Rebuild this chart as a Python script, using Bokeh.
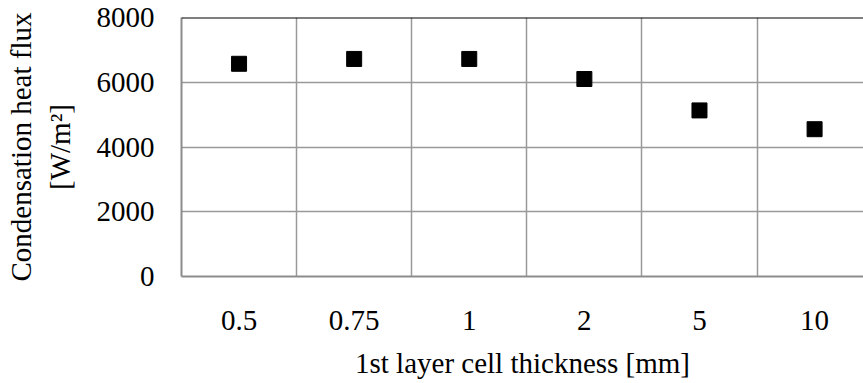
from bokeh.plotting import figure
from bokeh.models import Range1d, FixedTicker, Span, ColumnDataSource
from bokeh.embed import file_html
from bokeh.resources import INLINE

categories = ["0.5", "0.75", "1", "2", "5", "10"]
heat_flux = [6570, 6720, 6720, 6100, 5130, 4550]
y_ticks = [0, 2000, 4000, 6000, 8000]

xpos = [i + 0.5 for i in range(len(categories))]
src = ColumnDataSource(dict(x=xpos, y=heat_flux))

FONT = "Liberation Serif"
FS = "29px"

p = figure(width=863, height=375, output_backend="svg", toolbar_location=None,
           x_range=Range1d(0, 5.925), y_range=Range1d(0, 8000),
           frame_width=682, frame_height=259,
           min_border_left=181, min_border_right=0, min_border_top=17, min_border_bottom=0)
p.outline_line_color = None
p.background_fill_color = "white"

p.scatter("x", "y", source=src, marker="square", size=15, fill_color="black", line_color="black")

# x axis
p.xaxis.ticker = FixedTicker(ticks=xpos)
p.xaxis.major_label_overrides = {x: c for x, c in zip(xpos, categories)}
p.xaxis.axis_label = "1st layer cell thickness [mm]"
# y axis
p.yaxis.ticker = FixedTicker(ticks=y_ticks)
p.yaxis.axis_label = "Condensation heat flux\n[W/m\u00b2]"

for ax in (p.xaxis, p.yaxis):
    ax.major_tick_line_color = None
    ax.minor_tick_line_color = None
    ax.axis_line_color = "#8c8c8c"
    ax.axis_line_width = 2
    ax.major_label_text_font = FONT
    ax.major_label_text_font_size = FS
    ax.major_label_text_color = "black"
    ax.axis_label_text_font = FONT
    ax.axis_label_text_font_size = FS
    ax.axis_label_text_font_style = "normal"
    ax.axis_label_text_color = "black"

p.xaxis.major_label_standoff = 28
p.xaxis.axis_label_standoff = 14
p.yaxis.major_label_standoff = 21
p.yaxis.axis_label_standoff = 18

p.xgrid.ticker = FixedTicker(ticks=[1, 2, 3, 4, 5, 6])
p.ygrid.ticker = FixedTicker(ticks=[2000, 4000, 6000])
for g in (p.xgrid, p.ygrid):
    g.grid_line_color = "#999999"
    g.grid_line_width = 1.5

p.add_layout(Span(location=8000, dimension="width", line_color="black", line_width=2))

open("out.html", "w").write(file_html(p, INLINE))
